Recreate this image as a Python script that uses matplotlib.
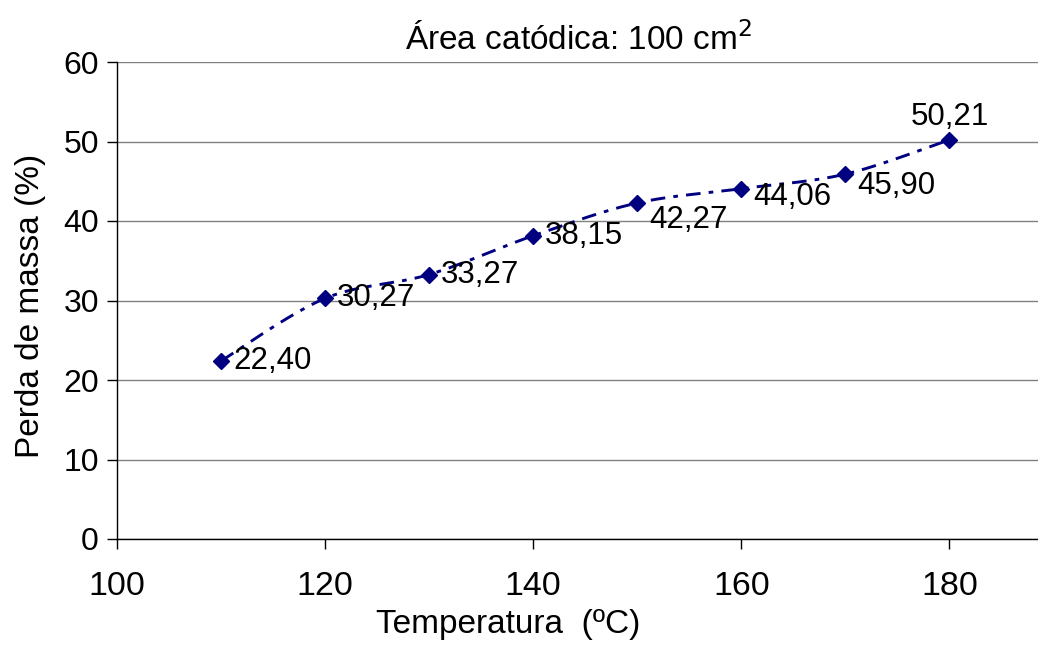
import numpy as np
import matplotlib
matplotlib.use("Agg")
import matplotlib.pyplot as plt

# Data
temperatures = [110, 120, 130, 140, 150, 160, 170, 180]
mass_loss = [22.40, 30.27, 33.27, 38.15, 42.27, 44.06, 45.90, 50.21]
labels = ["22,40", "30,27", "33,27", "38,15", "42,27", "44,06", "45,90", "50,21"]
x_ticks = [100, 120, 140, 160, 180]
y_ticks = [0, 10, 20, 30, 40, 50, 60]

# label offsets in pixels (dx, dy) -- layout only
label_offsets = [(12, 0), (12, 0), (12, 0), (12, 0), (12, -17), (12, -8), (12, -12), (0, 8)]
label_align = ["left"] * 7 + ["center"]
label_valign = ["center"] * 7 + ["bottom"]

plt.rcParams['font.family'] = ['Liberation Sans', 'DejaVu Sans']

W, H = 1038, 659
fig = plt.figure(figsize=(W / 100, H / 100), dpi=100)
ax = fig.add_axes([117 / W, 1 - 539 / H, (1040 - 117) / W, (539 - 62) / H])


def smooth(xs, ys, n=40):
    xs = np.asarray(xs, float)
    ys = np.asarray(ys, float)
    px = np.concatenate([[xs[0]], xs, [xs[-1]]])
    py = np.concatenate([[ys[0]], ys, [ys[-1]]])
    outx, outy = [], []
    t = np.linspace(0, 1, n)
    for i in range(1, len(px) - 2):
        p0 = np.array([px[i], py[i]])
        p3 = np.array([px[i + 1], py[i + 1]])
        c1 = p0 + (np.array([px[i + 1], py[i + 1]]) - np.array([px[i - 1], py[i - 1]])) / 6
        c2 = p3 - (np.array([px[i + 2], py[i + 2]]) - np.array([px[i], py[i]])) / 6
        b = ((1 - t) ** 3)[:, None] * p0 + (3 * (1 - t) ** 2 * t)[:, None] * c1 + \
            (3 * (1 - t) * t ** 2)[:, None] * c2 + (t ** 3)[:, None] * p3
        outx.extend(b[:, 0])
        outy.extend(b[:, 1])
    return np.array(outx), np.array(outy)


sx, sy = smooth(temperatures, mass_loss)
ax.plot(sx, sy, color='#000080', lw=2.1, dashes=(5, 2.8, 1.6, 2.8), zorder=3)
ax.plot(temperatures, mass_loss, linestyle='none', marker='D', ms=8,
        color='#000080', zorder=4)

for x, y, lab, (dx, dy), ha, va in zip(temperatures, mass_loss, labels,
                                       label_offsets, label_align, label_valign):
    ax.annotate(lab, (x, y), xytext=(dx * 0.72, dy * 0.72), textcoords='offset points',
                ha=ha, va=va, fontsize=22.5, color='black', zorder=5)

ax.set_xlim(100, 188.7)
ax.set_ylim(0, 60)
ax.set_xticks(x_ticks)
ax.set_yticks(y_ticks)
ax.grid(axis='y', color='#808080', lw=1)
ax.set_axisbelow(True)
for s in ['top', 'right']:
    ax.spines[s].set_visible(False)
for s in ['left', 'bottom']:
    ax.spines[s].set_color('black')
    ax.spines[s].set_linewidth(1)
ax.tick_params(direction='out', length=7, width=1)
ax.tick_params(axis='x', labelsize=24.5, pad=16)
ax.tick_params(axis='y', labelsize=23, pad=6)

ax.set_title(r'Área catódica: 100 cm$^{2}$', fontsize=24, pad=9)
ax.set_xlabel('Temperatura  (ºC)', fontsize=24)
ax.xaxis.set_label_coords((508 - 117) / 923, -(625 - 539) / 477, transform=ax.transAxes)
ax.xaxis.label.set_va('center')
ax.set_ylabel('Perda de massa (%)', fontsize=24)
ax.yaxis.set_label_coords(-(117 - 31) / 923, (539 - 306) / 477, transform=ax.transAxes)
ax.yaxis.label.set_va('center')

fig.savefig('out.png', dpi=100)
